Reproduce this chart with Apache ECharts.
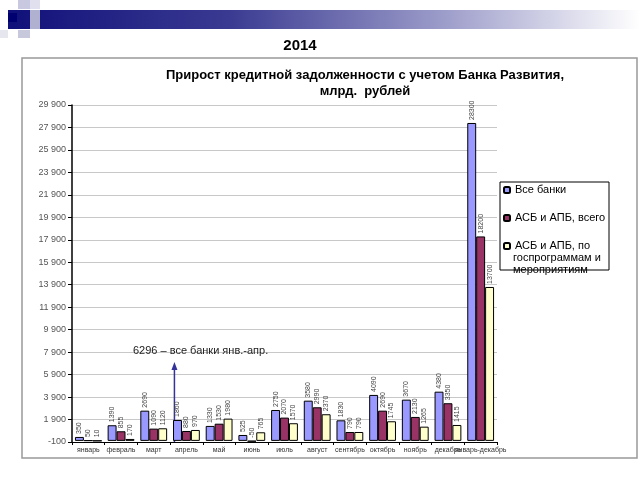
<!DOCTYPE html>
<html>
<head>
<meta charset="utf-8">
<script src="https://cdn.jsdelivr.net/npm/echarts@6/dist/echarts.min.js"></script>
<style>
html,body{margin:0;padding:0;background:#fff;}
#c{width:640px;height:480px;}
</style>
</head>
<body>
<div id="c"></div>
<script>
var categories = ['январь','февраль','март','апрель','май','июнь','июль','август','сентябрь','октябрь','ноябрь','декабрь','январь-декабрь'];
var allBanks   = [350, 1390, 2690, 1860, 1330, 525, 2750, 3580, 1830, 4090, 3670, 4380, 28300];
var asbTotal   = [50, 855, 1090, 880, 1530, -50, 2070, 2990, 790, 2690, 2130, 3350, 18200];
var asbProgram = [10, 170, 1120, 970, 1980, 765, 1570, 2370, 790, 1745, 1265, 1415, 13700];
var seriesNames = ['Все банки', 'АСБ и АПБ, всего', 'АСБ и АПБ, по\nгоспрограммам и\nмероприятиям'];
var yMin = -100, yMax = 29900, yStep = 2000;

var chart = echarts.init(document.getElementById('c'));
function fmt(v){
  var s = String(Math.abs(v)).replace(/\B(?=(\d{3})+(?!\d))/g, ' ');
  return (v < 0 ? '-' : '') + s;
}
var lbl = {show:true, position:'top', rotate:90, align:'left', verticalAlign:'middle', distance:3, fontSize:7, color:'#444', fontFamily:'Arial'};
function mk(name, data, color){
  return {name:name, type:'bar', data:data, barGap:'0%', barCategoryGap:'18%',
    itemStyle:{color:color, borderColor:'#000', borderWidth:1}, label:lbl};
}
var option = {
  animation:false,
  grid:{left:72, right:143, top:105, bottom:38},
  legend:{orient:'vertical', left:498, top:179, itemWidth:6, itemHeight:6, itemGap:16,
    textStyle:{fontSize:11, color:'#000', fontFamily:'Arial', lineHeight:12},
    formatter:function(n){ return n.split('\n')[0]; },
    data:seriesNames},
  xAxis:{type:'category', data:categories,
    axisLine:{onZero:false, lineStyle:{color:'#000', width:1}},
    axisTick:{show:true, lineStyle:{color:'#000'}, length:3},
    axisLabel:{interval:0, fontSize:7, color:'#333', fontFamily:'Arial', margin:5}},
  yAxis:{type:'value', min:yMin, max:yMax, interval:yStep,
    axisLine:{show:true, lineStyle:{color:'#000', width:1.5}},
    axisTick:{show:true, length:4, lineStyle:{color:'#000'}},
    axisLabel:{fontSize:9, color:'#555', fontFamily:'Arial', formatter:fmt, margin:6},
    splitLine:{lineStyle:{color:'#c8c8c8'}}},
  series:[mk(seriesNames[0], allBanks, '#9999ff'), mk(seriesNames[1], asbTotal, '#993366'), mk(seriesNames[2], asbProgram, '#ffffcc')]
};
chart.setOption(option);

var px = chart.convertToPixel({xAxisIndex:0}, 'апрель');
var bottomY = chart.convertToPixel({yAxisIndex:0}, yMin);
var arrowX = px - 12;
var extra = seriesNames[2].split('\n').slice(1);
chart.setOption({graphic:[
  {type:'rect', shape:{x:8, y:10, width:632, height:19}, style:{fill:new echarts.graphic.LinearGradient(0,0,1,0,[{offset:0,color:'#10107a'},{offset:0.35,color:'#3a3a92'},{offset:0.7,color:'#a0a0cc'},{offset:1,color:'#ffffff'}])}},
  {type:'rect', shape:{x:8, y:13, width:9, height:9}, style:{fill:'#000070'}},
  {type:'rect', shape:{x:18, y:0, width:12, height:9}, style:{fill:'#c8c8e0'}},
  {type:'rect', shape:{x:30, y:0, width:10, height:9}, style:{fill:'#e0e0ee'}},
  {type:'rect', shape:{x:30, y:10, width:10, height:19}, style:{fill:'#b0b0d0'}},
  {type:'rect', shape:{x:18, y:30, width:12, height:8}, style:{fill:'#c8c8dc'}},
  {type:'rect', shape:{x:0, y:30, width:8, height:8}, style:{fill:'#e6e6ee'}},
  {type:'text', style:{text:'2014', x:300, y:38, textAlign:'center', font:'bold 15px Arial', fill:'#000'}},
  {type:'rect', shape:{x:22, y:58, width:615, height:400}, style:{fill:'none', stroke:'#999', lineWidth:1.5}},
  {type:'text', style:{text:'Прирост кредитной задолженности с учетом Банка Развития,\nмлрд.  рублей', x:365, y:67, textAlign:'center', font:'bold 13px Arial', lineHeight:16, fill:'#000'}},
  {type:'text', style:{text:extra.join('\n'), x:513, y:252, font:'11px Arial', lineHeight:12, fill:'#000'}},
  {type:'rect', shape:{x:500, y:182, width:109, height:88}, style:{fill:'none', stroke:'#000', lineWidth:1}},
  {type:'text', style:{text:'6296 – все банки янв.-апр.', x:133, y:345, font:'11px Arial', fill:'#222'}},
  {type:'line', shape:{x1:arrowX, y1:bottomY, x2:arrowX, y2:368}, style:{stroke:'#333399', lineWidth:1.5}},
  {type:'polygon', shape:{points:[[arrowX,362],[arrowX-3,370],[arrowX+3,370]]}, style:{fill:'#333399'}}
]});
</script>
</body>
</html>
